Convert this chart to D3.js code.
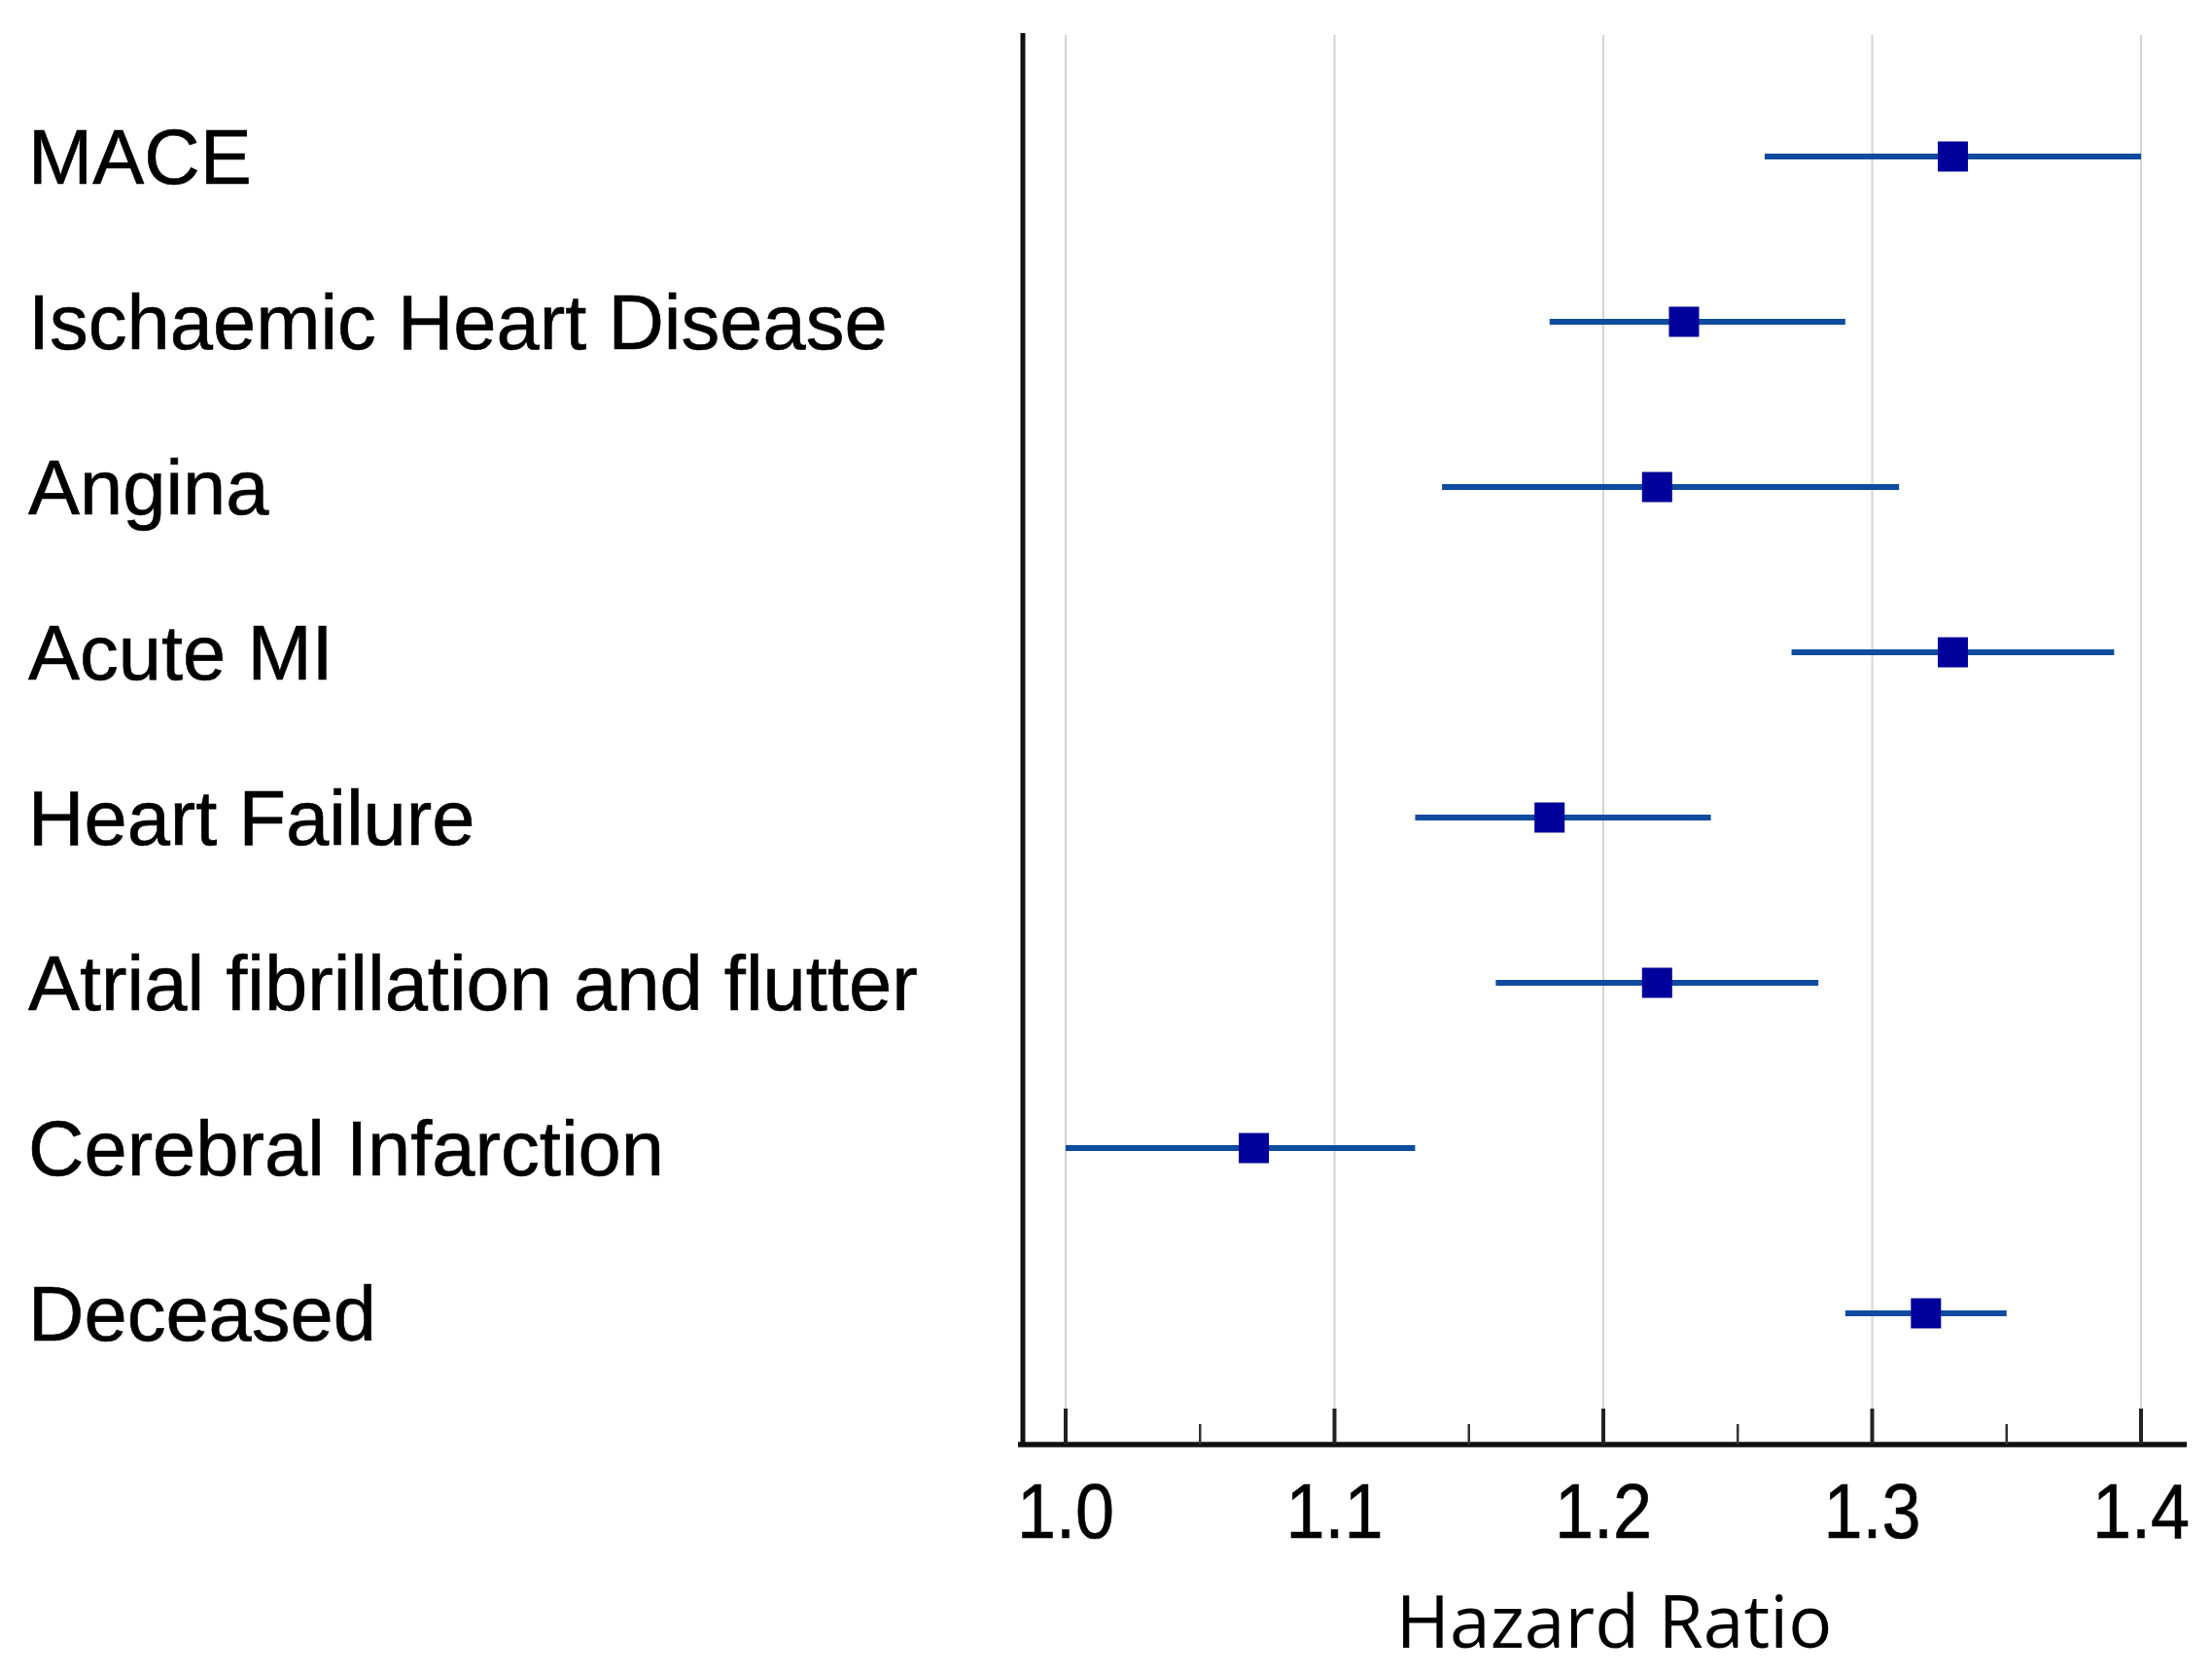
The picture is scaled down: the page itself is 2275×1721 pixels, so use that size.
<!DOCTYPE html>
<html>
<head>
<meta charset="utf-8">
<script src="https://cdn.jsdelivr.net/npm/d3@7"></script>
<style>
  html, body { margin: 0; padding: 0; background: #fff; }
  svg { display: block; }
</style>
</head>
<body>
<svg id="chart" width="2275" height="1721"></svg>
<script>
const categories = ["MACE", "Ischaemic Heart Disease", "Angina", "Acute MI", "Heart Failure",
  "Atrial fibrillation and flutter", "Cerebral Infarction", "Deceased"];
const hazardRatio = [1.33, 1.23, 1.22, 1.33, 1.18, 1.22, 1.07, 1.32];
const lowerCI     = [1.26, 1.18, 1.14, 1.27, 1.13, 1.16, 1.00, 1.29];
const upperCI     = [1.40, 1.29, 1.31, 1.39, 1.24, 1.28, 1.13, 1.35];
const majorTicks = [1.0, 1.1, 1.2, 1.3, 1.4];
const minorTicks = [1.05, 1.15, 1.25, 1.35];
const xTitle = "Hazard Ratio";

const svg = d3.select("#chart");
const axisX = 1052, axisTop = 34, axisBottom = 1486, axisRight = 2249;

const x = d3.scaleLinear().domain([1.0, 1.4]).range([1096, 2202]);
const y = d3.scaleLinear().domain([0, categories.length - 1]).range([161, 1351]);

// gridlines
svg.append("g").selectAll("line").data(majorTicks).join("line")
  .attr("x1", d => x(d)).attr("x2", d => x(d))
  .attr("y1", 36).attr("y2", axisBottom)
  .attr("stroke", "#d4d4d4").attr("stroke-width", 2);

// x axis line
svg.append("line").attr("x1", 1047).attr("x2", axisRight)
  .attr("y1", axisBottom).attr("y2", axisBottom)
  .attr("stroke", "#111").attr("stroke-width", 5.5);
// y axis line
svg.append("line").attr("x1", axisX).attr("x2", axisX)
  .attr("y1", axisTop).attr("y2", axisBottom + 2)
  .attr("stroke", "#111").attr("stroke-width", 5);

// major ticks
svg.append("g").selectAll("line").data(majorTicks).join("line")
  .attr("x1", d => x(d)).attr("x2", d => x(d))
  .attr("y1", axisBottom - 37).attr("y2", axisBottom)
  .attr("stroke", "#222").attr("stroke-width", 4);
// minor ticks
svg.append("g").selectAll("line").data(minorTicks).join("line")
  .attr("x1", d => x(d)).attr("x2", d => x(d))
  .attr("y1", axisBottom - 21).attr("y2", axisBottom)
  .attr("stroke", "#333").attr("stroke-width", 2.5);

// tick labels
svg.append("g").selectAll("text").data(majorTicks).join("text")
  .attr("transform", d => `translate(${x(d)},1582) scale(0.9,1)`)
  .attr("text-anchor", "middle")
  .attr("font-family", "'Liberation Sans', Arial, sans-serif")
  .attr("font-size", 80)
  .attr("fill", "#000")
  .attr("stroke", "#000").attr("stroke-width", 0.6)
  .text(d => d.toFixed(1));

// x title
svg.append("text")
  .attr("x", 1660).attr("y", 1695)
  .attr("text-anchor", "middle")
  .attr("font-family", "'Open Sans', sans-serif")
  .attr("font-size", 75)
  .attr("fill", "#000")
  .text(xTitle);

// row labels
svg.append("g").selectAll("text").data(categories).join("text")
  .attr("x", 29).attr("y", (d, i) => y(i) + 28)
  .attr("font-family", "'Liberation Sans', Arial, sans-serif")
  .attr("font-size", 79.5)
  .attr("fill", "#000")
  .attr("stroke", "#000").attr("stroke-width", 0.6)
  .text(d => d);

// CI lines
svg.append("g").selectAll("line").data(categories).join("line")
  .attr("x1", (d, i) => x(lowerCI[i])).attr("x2", (d, i) => x(upperCI[i]))
  .attr("y1", (d, i) => y(i)).attr("y2", (d, i) => y(i))
  .attr("stroke", "#0f4c9f").attr("stroke-width", 6);

// markers
const ms = 31;
svg.append("g").selectAll("rect").data(categories).join("rect")
  .attr("x", (d, i) => x(hazardRatio[i]) - ms / 2)
  .attr("y", (d, i) => y(i) - ms / 2)
  .attr("width", ms).attr("height", ms)
  .attr("fill", "#00009a");
</script>
</body>
</html>
